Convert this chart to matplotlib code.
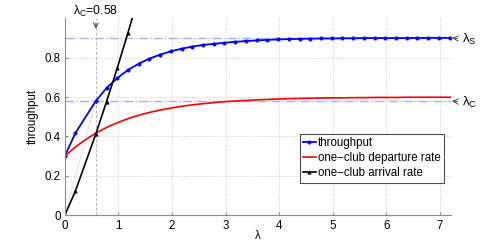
import numpy as np
import matplotlib
matplotlib.use('Agg')
import matplotlib.pyplot as plt

plt.rcParams['font.family'] = ['Liberation Sans', 'DejaVu Sans']
plt.rcParams['mathtext.fontset'] = 'custom'
plt.rcParams['mathtext.rm'] = 'Liberation Sans'
plt.rcParams['mathtext.it'] = 'Liberation Sans'
plt.rcParams['font.size'] = 8.3

# throughput (blue, with markers)
lam_tp = [0, 0.2, 0.58, 0.78, 0.98, 1.18, 1.38, 1.58, 1.78, 1.98, 2.18, 2.38,
          2.58, 2.78, 2.98, 3.18, 3.38, 3.58, 3.78, 3.98, 4.18, 4.38, 4.58,
          4.78, 4.98, 5.18, 5.38, 5.58, 5.78, 5.98, 6.18, 6.38, 6.58, 6.78,
          6.98, 7.18]
throughput = [0.300, 0.418, 0.580, 0.646, 0.696, 0.737, 0.769, 0.795, 0.815,
              0.832, 0.845, 0.856, 0.864, 0.870, 0.875, 0.880, 0.884, 0.887,
              0.890, 0.892, 0.894, 0.895, 0.896, 0.897, 0.897, 0.898, 0.898,
              0.899, 0.899, 0.899, 0.899, 0.899, 0.900, 0.900, 0.900, 0.900]

# one-club departure rate (red)
lam_dep = [0, 0.2, 0.4, 0.6, 0.8, 1.0, 1.2, 1.4, 1.6, 1.8, 2.0, 2.2, 2.4, 2.6,
           2.8, 3.0, 3.2, 3.4, 3.6, 3.8, 4.0, 4.2, 4.4, 4.6, 4.8, 5.0, 5.2,
           5.4, 5.6, 5.8, 6.0, 6.2, 6.4, 6.6, 6.8, 7.0, 7.2]
departure = [0.300, 0.347, 0.386, 0.420, 0.448, 0.472, 0.492, 0.509, 0.523,
             0.535, 0.545, 0.554, 0.561, 0.567, 0.572, 0.577, 0.580, 0.583,
             0.586, 0.588, 0.590, 0.592, 0.593, 0.594, 0.595, 0.596, 0.596,
             0.597, 0.597, 0.598, 0.598, 0.598, 0.599, 0.599, 0.599, 0.599,
             0.599]

# one-club arrival rate (black)
lam_arr = [0, 0.2, 0.58, 0.78, 0.98, 1.18, 1.38]
arrival = [0, 0.124, 0.413, 0.577, 0.747, 0.927, 1.11]

lam_S = 0.9
lam_C = 0.58

fig = plt.figure(figsize=(4.98, 2.42), dpi=100)
ax = fig.add_axes([0.13, 0.11, 0.775, 0.815])

guide = (0.68, 0.68, 1.0)
ax.plot([0, 7.2], [lam_S, lam_S], ls='-.', color=guide, lw=1.0)
ax.plot([0, 7.2], [lam_C, lam_C], ls='-.', color=guide, lw=1.0)
ax.plot([lam_C, lam_C], [0, 1], ls='--', color=guide, lw=0.7, dashes=(3, 2))
ax.plot([0, lam_C], [0, lam_C], ls=':', color=guide, lw=0.7)

ax.plot(lam_tp, throughput, '-o', color='b', lw=1.3, ms=2.4, mew=0.5,
        label='throughput')
ax.plot(lam_dep, departure, '-', color='r', lw=1.2,
        label='one\u2212club departure rate')
ax.plot(lam_arr, arrival, '-^', color='k', lw=1.2, ms=2.4, mew=0.5,
        label='one\u2212club arrival rate')

ax.set_xlim(0, 7.2)
ax.set_ylim(0, 1)
ax.set_xticks(range(8))
ax.set_yticks([0, 0.2, 0.4, 0.6, 0.8])
ax.set_yticklabels(['0', '0.2', '0.4', '0.6', '0.8'])
ax.grid(True, ls=':', color=(0.8, 0.8, 0.8), lw=0.7)
for s in ['top', 'right']:
    ax.spines[s].set_visible(False)
for s in ['left', 'bottom']:
    ax.spines[s].set_color((0.55, 0.55, 0.55))
    ax.spines[s].set_linewidth(0.8)
ax.tick_params(direction='in', length=2.5, color=(0.55, 0.55, 0.55),
               labelsize=8.3, pad=3)

ax.set_xlabel('\u03bb', labelpad=-1)
ax.set_ylabel('throughput', labelpad=4)

arrow = dict(arrowstyle='->', lw=0.6, color=(0.2, 0.2, 0.2),
             shrinkA=1, shrinkB=1)
ax.annotate(r'$\lambda_\mathrm{S}$', xy=(7.2, lam_S), xytext=(8, -1),
            textcoords='offset points', ha='left', va='center',
            fontsize=9.5, arrowprops=arrow, annotation_clip=False)
ax.annotate(r'$\lambda_\mathrm{C}$', xy=(7.2, lam_C), xytext=(8, -1),
            textcoords='offset points', ha='left', va='center',
            fontsize=9.5, arrowprops=arrow, annotation_clip=False)
ax.annotate(r'$\lambda_\mathrm{C}$=0.58', xy=(lam_C, 0.94),
            xytext=(lam_C, 1.035), ha='center', va='center', fontsize=8.8,
            arrowprops=arrow, annotation_clip=False)

leg = ax.legend(loc='lower right', bbox_to_anchor=(0.982, 0.166),
                borderaxespad=0, fancybox=False, framealpha=1,
                edgecolor=(0.3, 0.3, 0.3), handlelength=1.1,
                handletextpad=0.15, labelspacing=0.25, borderpad=0.3,
                fontsize=8.3)
leg.get_frame().set_linewidth(0.8)

fig.savefig('out.png', dpi=100)
